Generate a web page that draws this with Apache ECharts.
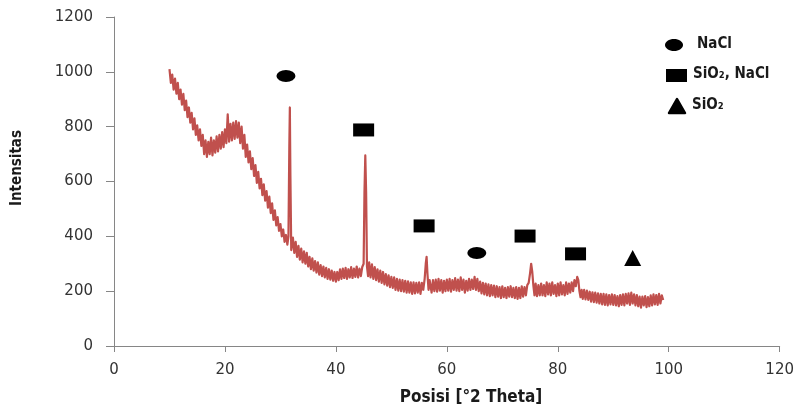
<!DOCTYPE html>
<html><head><meta charset="utf-8">
<script src="https://cdn.jsdelivr.net/npm/echarts@6/dist/echarts.min.js"></script>
<style>html,body{margin:0;padding:0;background:#fff}#c{width:797px;height:410px}</style>
</head><body><div id="c"></div>
<script>
// [2θ, intensity]
const xrdScan = [[10.00,1010],[10.25,960],[10.50,990],[10.75,935],[11.00,975],[11.25,920],[11.50,960],[11.75,900],[12.00,935],[12.25,880],[12.50,920],[12.75,860],[13.00,895],[13.25,835],[13.50,870],[13.75,815],[14.00,850],[14.25,790],[14.50,830],[14.75,770],[15.00,805],[15.25,750],[15.50,790],[15.75,730],[16.00,770],[16.25,700],[16.50,750],[16.75,690],[17.00,745],[17.25,700],[17.50,760],[17.75,695],[18.00,750],[18.25,705],[18.50,765],[18.75,710],[19.00,770],[19.25,720],[19.50,780],[19.75,725],[20.00,790],[20.25,740],[20.50,845],[20.75,745],[21.00,810],[21.25,750],[21.50,815],[21.75,755],[22.00,820],[22.25,760],[22.50,815],[22.75,740],[23.00,800],[23.25,720],[23.50,770],[23.75,690],[24.00,735],[24.25,670],[24.50,710],[24.75,645],[25.00,685],[25.25,620],[25.50,660],[25.75,595],[26.00,635],[26.25,575],[26.50,610],[26.75,550],[27.00,590],[27.25,530],[27.50,565],[27.75,505],[28.00,545],[28.25,485],[28.50,520],[28.75,460],[29.00,495],[29.25,440],[29.50,470],[29.75,420],[30.00,445],[30.25,400],[30.50,425],[30.75,380],[31.00,405],[31.25,370],[31.45,400],[31.60,720],[31.70,870],[31.80,620],[31.95,350],[32.25,395],[32.50,340],[32.75,380],[33.00,325],[33.25,365],[33.50,315],[33.75,355],[34.00,305],[34.25,345],[34.50,300],[34.75,340],[35.00,290],[35.25,325],[35.50,280],[35.75,320],[36.00,275],[36.25,310],[36.50,268],[36.75,305],[37.00,260],[37.25,295],[37.50,255],[37.75,290],[38.00,250],[38.25,285],[38.50,245],[38.75,280],[39.00,242],[39.25,275],[39.50,238],[39.75,270],[40.00,235],[40.25,270],[40.50,240],[40.75,280],[41.00,245],[41.25,282],[41.50,248],[41.75,285],[42.00,245],[42.25,280],[42.50,250],[42.75,288],[43.00,248],[43.25,282],[43.50,252],[43.75,290],[44.00,250],[44.25,282],[44.50,255],[44.75,288],[45.00,300],[45.15,560],[45.30,695],[45.45,560],[45.60,290],[45.80,255],[46.00,305],[46.25,250],[46.50,298],[46.75,245],[47.00,288],[47.25,240],[47.50,280],[47.75,235],[48.00,275],[48.25,230],[48.50,270],[48.75,225],[49.00,262],[49.25,220],[49.50,258],[49.75,215],[50.00,252],[50.25,212],[50.50,250],[50.75,205],[51.00,245],[51.25,202],[51.50,242],[51.75,200],[52.00,240],[52.25,198],[52.50,238],[52.75,195],[53.00,236],[53.25,195],[53.50,232],[53.75,190],[54.00,232],[54.25,192],[54.50,230],[54.75,195],[55.00,232],[55.25,190],[55.50,230],[55.75,205],[56.00,245],[56.20,300],[56.35,325],[56.50,265],[56.70,205],[56.90,240],[57.25,195],[57.50,240],[57.75,200],[58.00,242],[58.25,198],[58.50,245],[58.75,202],[59.00,240],[59.25,195],[59.50,238],[59.75,200],[60.00,242],[60.25,202],[60.50,245],[60.75,198],[61.00,240],[61.25,205],[61.50,248],[61.75,202],[62.00,242],[62.25,200],[62.50,250],[62.75,205],[63.00,242],[63.25,195],[63.50,238],[63.75,202],[64.00,245],[64.25,205],[64.50,242],[64.75,208],[65.00,252],[65.25,205],[65.50,245],[65.75,200],[66.00,235],[66.25,192],[66.50,230],[66.75,188],[67.00,228],[67.25,185],[67.50,225],[67.75,182],[68.00,222],[68.25,185],[68.50,220],[68.75,178],[69.00,218],[69.25,180],[69.50,215],[69.75,175],[70.00,218],[70.25,178],[70.50,212],[70.75,175],[71.00,215],[71.25,180],[71.50,218],[71.75,178],[72.00,212],[72.25,175],[72.50,215],[72.75,172],[73.00,212],[73.25,175],[73.50,218],[73.75,180],[74.00,215],[74.25,185],[74.50,222],[74.75,230],[75.00,265],[75.20,300],[75.40,270],[75.60,220],[75.80,185],[76.00,228],[76.25,182],[76.50,222],[76.75,185],[77.00,228],[77.25,185],[77.50,222],[77.75,182],[78.00,232],[78.25,188],[78.50,228],[78.75,185],[79.00,232],[79.25,190],[79.50,222],[79.75,182],[80.00,228],[80.25,185],[80.50,232],[80.75,188],[81.00,222],[81.25,185],[81.50,232],[81.75,190],[82.00,228],[82.25,195],[82.50,232],[82.75,200],[83.00,240],[83.25,218],[83.50,252],[83.70,240],[83.90,200],[84.10,178],[84.30,205],[84.50,172],[84.75,205],[85.00,170],[85.25,202],[85.50,168],[85.75,198],[86.00,162],[86.25,196],[86.50,160],[86.75,195],[87.00,158],[87.25,192],[87.50,155],[87.75,190],[88.00,152],[88.25,190],[88.50,150],[88.75,188],[89.00,148],[89.25,186],[89.50,152],[89.75,188],[90.00,150],[90.25,186],[90.50,148],[90.75,182],[91.00,145],[91.25,186],[91.50,150],[91.75,188],[92.00,148],[92.25,190],[92.50,155],[92.75,192],[93.00,150],[93.25,195],[93.50,155],[93.75,188],[94.00,148],[94.25,186],[94.50,145],[94.75,180],[95.00,140],[95.25,180],[95.50,148],[95.75,182],[96.00,142],[96.25,178],[96.50,145],[96.75,185],[97.00,148],[97.25,188],[97.50,152],[97.75,186],[98.00,150],[98.25,190],[98.50,155],[98.75,185],[99.00,168]];
const xTicks = [0,20,40,60,80,100,120];
const yTicks = [0,200,400,600,800,1000,1200];
const markerX = [31.0,45.0,55.9,65.4,74.1,83.2,93.5];
const markerY = [985,788,438,339,401,336,321];
const markerShape = ['ellipse','rect','rect','ellipse','rect','rect','triangle'];
const legendLabels = ['NaCl','SiO₂, NaCl','SiO₂'];
const xTitle = 'Posisi [°2 Theta]';
const yTitle = 'Intensitas';

const shapeSymbol = {ellipse:'circle', rect:'rect', triangle:'triangle'};
const shapeSize = {ellipse:[19,12], rect:[21,13], triangle:[17,16]};

const chart = echarts.init(document.getElementById('c'), null, {renderer:'canvas'});
const axisCol = '#868686';
const labCol = '#333333';
const tickFont = 'DejaVu Sans';
const titleFont = '"Liberation Sans Narrow","DejaVu Sans Condensed",sans-serif';

chart.setOption({
  animation:false,
  backgroundColor:'#fff',
  grid:{left:114,right:17,top:17,bottom:64,containLabel:false},
  xAxis:{type:'value',min:xTicks[0],max:xTicks[xTicks.length-1],interval:20,
    axisLine:{lineStyle:{color:axisCol,width:1}},
    axisTick:{show:true,length:6,lineStyle:{color:axisCol}},
    splitLine:{show:false},
    axisLabel:{color:labCol,fontFamily:tickFont,fontSize:15,margin:17,formatter:v=>String(v)}},
  yAxis:{type:'value',min:yTicks[0],max:yTicks[yTicks.length-1],interval:200,
    axisLine:{show:true,lineStyle:{color:axisCol,width:1}},
    axisTick:{show:true,length:8,lineStyle:{color:axisCol}},
    splitLine:{show:false},
    axisLabel:{color:labCol,fontFamily:tickFont,fontSize:15,margin:21,formatter:v=>String(v)}},
  series:[
    {type:'line',data:xrdScan,showSymbol:false,
     lineStyle:{color:'#c0504d',width:2.2,join:'round'},z:2},
    {type:'scatter',data:markerX.map((x,i)=>({value:[x,markerY[i]],symbol:shapeSymbol[markerShape[i]],symbolSize:shapeSize[markerShape[i]]})),
     itemStyle:{color:'#000',opacity:1},z:3}
  ],
  graphic:[
    {type:'text',left:10,top:130,rotation:Math.PI/2,style:{text:yTitle,font:'bold 15px '+titleFont,fill:'#1a1a1a'}},
    {type:'text',x:471,y:398,style:{text:xTitle,font:'bold 17px '+titleFont,fill:'#1a1a1a',align:'center',verticalAlign:'middle'}},
    {type:'ellipse',shape:{cx:674,cy:45,rx:9,ry:6},style:{fill:'#000'}},
    {type:'rect',shape:{x:666,y:69,width:21,height:13},style:{fill:'#000'}},
    {type:'polygon',shape:{points:[[677,99],[685,113],[669,113]]},style:{fill:'#000',stroke:'#000',lineWidth:2.5,lineJoin:'round'}},
    {type:'text',x:697,y:37,style:{text:legendLabels[0],font:'bold 15px '+titleFont,fill:'#1a1a1a'}},
    {type:'text',x:693,y:67,style:{text:legendLabels[1],font:'bold 15px '+titleFont,fill:'#1a1a1a'}},
    {type:'text',x:692,y:98,style:{text:legendLabels[2],font:'bold 15px '+titleFont,fill:'#1a1a1a'}}
  ]
});
</script></body></html>
